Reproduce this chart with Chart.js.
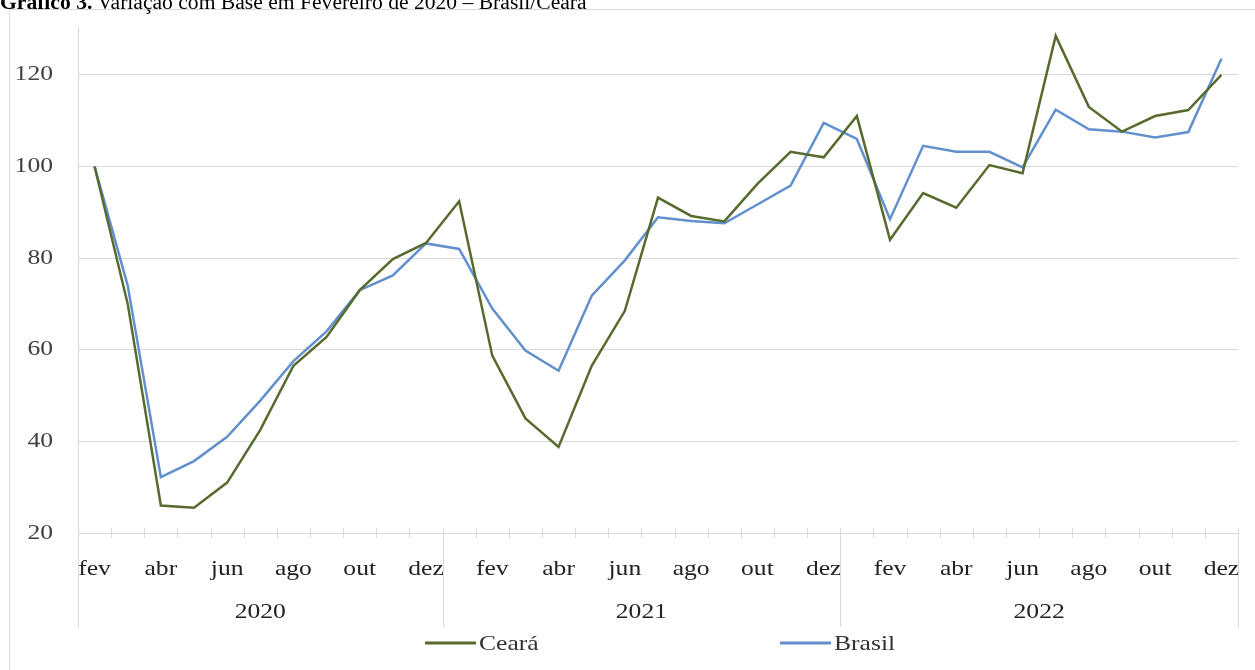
<!DOCTYPE html>
<html>
<head>
<meta charset="utf-8">
<script src="https://cdn.jsdelivr.net/npm/chart.js@4.4.0/dist/chart.umd.min.js"></script>
<style>
  html, body { margin: 0; padding: 0; background: #fff; overflow: hidden; }
  #wrap { position: relative; width: 1255px; height: 670px; }
  #title { position: absolute; left: 0; top: -9px; font-family: "Liberation Serif", serif; font-size: 21.6px; line-height: 22px; color: #000; white-space: nowrap; }
  #frame { position: absolute; left: 9px; top: 9px; width: 1300px; height: 700px; border: 1px solid #d9d9d9; box-sizing: border-box; }
  canvas { position: absolute; left: 0; top: 0; }
</style>
</head>
<body>
<div id="wrap">
  <div id="frame"></div>
  <canvas id="myChart" width="1255" height="670"></canvas>
  <div id="title"><b>Gráfico 3.</b> Variação com Base em Fevereiro de 2020 – Brasil/Ceará</div>
</div>

<script>
// months fev/2020 .. dez/2022
var months = ['fev','mar','abr','mai','jun','jul','ago','set','out','nov','dez',
  'jan','fev','mar','abr','mai','jun','jul','ago','set','out','nov','dez',
  'jan','fev','mar','abr','mai','jun','jul','ago','set','out','nov','dez'];
var years = ['2020', '2021', '2022'];
var monthsPerYear = [11, 12, 12];

var ceara = [100, 70, 26, 25.5, 31, 42.5, 56.5, 62.8, 73, 79.8, 83.3,
  92.4, 58.7, 45, 38.8, 56.5, 68.5, 93.2, 89.2, 88, 96.2, 103.2, 102,
  111, 84, 94.2, 91, 100.3, 98.5, 128.5, 113, 107.6, 111, 112.3, 120];
var brasil = [100, 74, 32.2, 35.7, 41, 48.9, 57.5, 64, 73, 76.2, 83.2,
  82, 69, 59.8, 55.4, 71.8, 79.5, 88.9, 88.1, 87.6, 91.7, 95.8, 109.5,
  106, 88.5, 104.5, 103.2, 103.2, 99.8, 112.4, 108.1, 107.6, 106.3, 107.5, 123.5];

var serif = '"Liberation Serif", "Times New Roman", serif';
var lineGray = '#d9d9d9';
var textStretch = 1.22; // the original chart text is drawn a bit wide

// draw every text of the chart horizontally stretched around its anchor
var wideText = {
  id: 'wideText',
  beforeDraw: function(chart) {
    var c = chart.ctx;
    if (c._wide) return;
    var orig = c.fillText.bind(c);
    c.fillText = function(text, x, y, maxWidth) {
      c.save();
      c.translate(x, y);
      c.scale(textStretch, 1);
      orig(text, 0, 0);
      c.restore();
    };
    c._wide = true;
  }
};

// excel style category axis: tick marks, year groups and legend
var excelAxis = {
  id: 'excelAxis',
  afterDraw: function(chart) {
    var ctx = chart.ctx;
    var area = chart.chartArea;
    var xs = chart.scales.x;
    var step = xs.getPixelForValue(1) - xs.getPixelForValue(0);
    var groupBottom = 627;

    ctx.save();
    ctx.strokeStyle = lineGray;
    ctx.lineWidth = 1;

    // vertical axis line running down through the label rows
    ctx.beginPath();
    ctx.moveTo(area.left + 0.5, area.top - 2);
    ctx.lineTo(area.left + 0.5, groupBottom);
    ctx.stroke();

    // tick marks on every month boundary
    for (var i = 0; i <= months.length; i++) {
      var x = Math.round(xs.getPixelForValue(0) - step / 2 + i * step) + 0.5;
      ctx.beginPath();
      ctx.moveTo(x, area.bottom - 5);
      ctx.lineTo(x, area.bottom + 5);
      ctx.stroke();
    }

    // year separators and year labels
    ctx.fillStyle = '#222';
    ctx.font = '21px ' + serif;
    ctx.textAlign = 'center';
    ctx.textBaseline = 'middle';
    var start = 0;
    for (var y = 0; y < years.length; y++) {
      var end = start + monthsPerYear[y];
      var x0 = xs.getPixelForValue(start) - step / 2;
      var x1 = xs.getPixelForValue(end - 1) + step / 2;
      ctx.beginPath();
      ctx.moveTo(Math.round(x1) + 0.5, area.bottom - 5);
      ctx.lineTo(Math.round(x1) + 0.5, groupBottom);
      ctx.stroke();
      ctx.fillText(years[y], (x0 + x1) / 2, 612);
      start = end;
    }

    // legend
    var legendX = [425, 780];
    var legendY = 643;
    chart.data.datasets.forEach(function(ds, k) {
      ctx.strokeStyle = ds.borderColor;
      ctx.lineWidth = 3;
      ctx.beginPath();
      ctx.moveTo(legendX[k], legendY);
      ctx.lineTo(legendX[k] + 51, legendY);
      ctx.stroke();
      ctx.fillStyle = '#333';
      ctx.textAlign = 'left';
      ctx.fillText(ds.label, legendX[k] + 54, legendY + 1);
    });
    ctx.restore();
  }
};

var ctx = document.getElementById('myChart').getContext('2d');
var myChart = new Chart(ctx, {
  type: 'line',
  data: {
    labels: months,
    datasets: [{
      label: 'Ceará',
      data: ceara,
      borderColor: '#586b2e',
      borderWidth: 2.5,
      pointRadius: 0,
      tension: 0,
      fill: false
    }, {
      label: 'Brasil',
      data: brasil,
      borderColor: '#6190cc',
      borderWidth: 2.5,
      pointRadius: 0,
      tension: 0,
      fill: false
    }]
  },
  options: {
    responsive: false,
    animation: false,
    layout: { padding: { left: 0, right: 17, top: 29, bottom: 0 } },
    plugins: {
      legend: { display: false },
      tooltip: { enabled: false }
    },
    scales: {
      x: {
        type: 'category',
        offset: true,
        grid: { display: false },
        border: { display: false },
        ticks: {
          autoSkip: false,
          maxRotation: 0,
          padding: 16,
          color: '#222',
          font: { family: serif, size: 21 },
          callback: function(value, index) {
            return index % 2 === 0 ? months[index] : '';
          }
        },
        afterFit: function(scale) { scale.height = 137; }
      },
      y: {
        min: 20,
        max: 130,
        afterBuildTicks: function(scale) {
          scale.ticks = scale.ticks.filter(function(t) { return t.value <= 120; });
        },
        grid: { color: lineGray, lineWidth: 1, drawTicks: true, tickLength: 25, tickColor: 'rgba(0,0,0,0)' },
        border: { display: false },
        ticks: {
          stepSize: 20,
          padding: 0,
          color: '#404040',
          font: { family: serif, size: 21 }
        },
        afterFit: function(scale) { scale.width = 78; }
      }
    }
  },
  plugins: [wideText, excelAxis]
});
</script>
</body>
</html>
